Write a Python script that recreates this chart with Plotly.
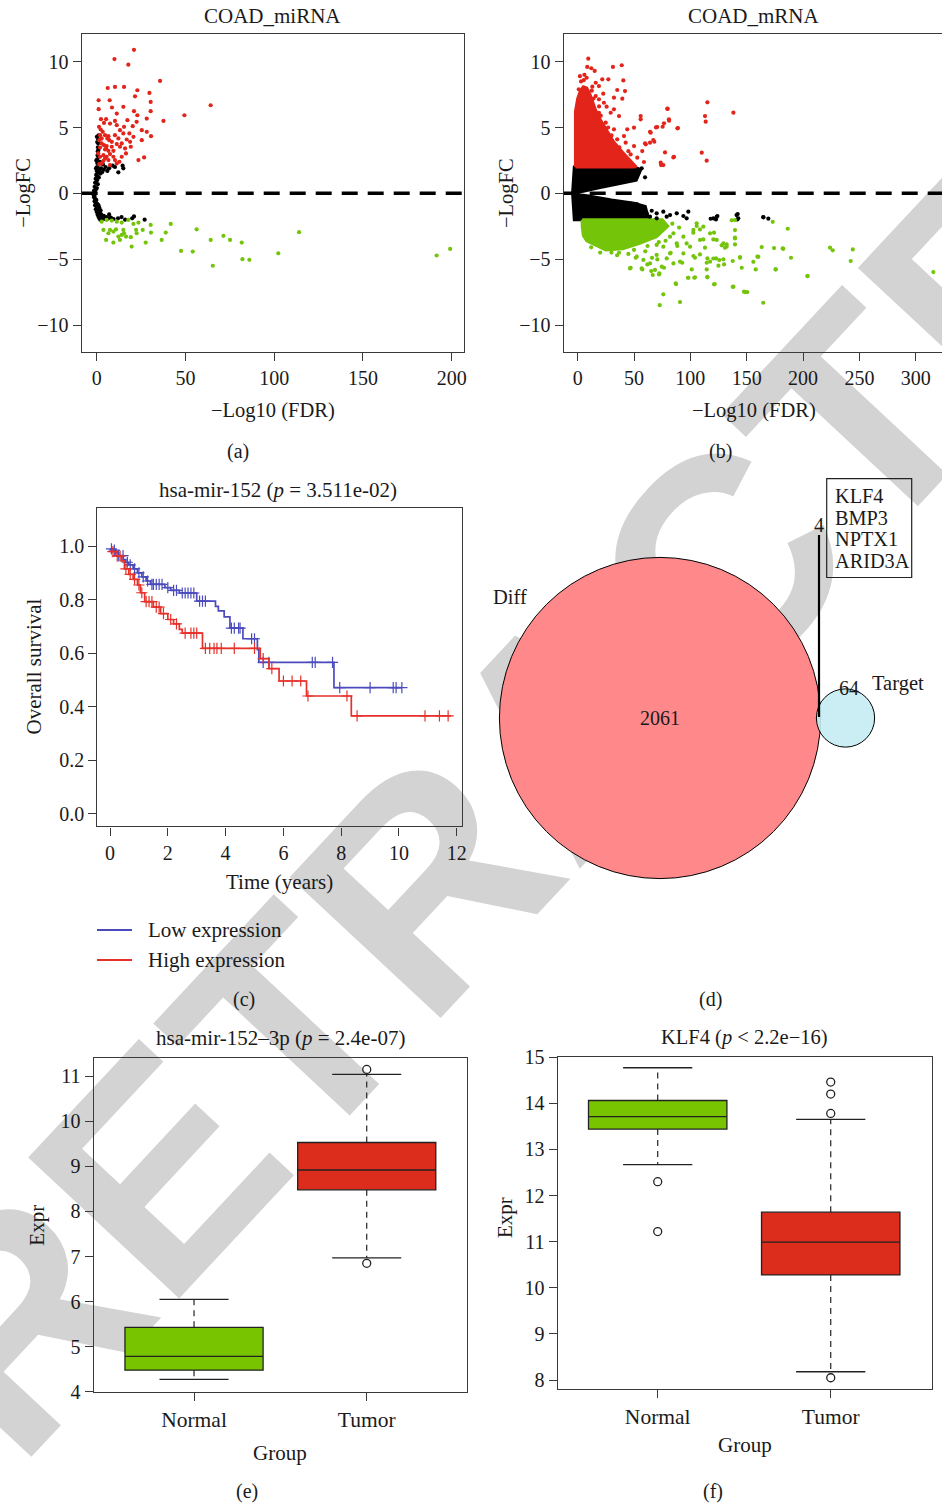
import numpy as np
import plotly.graph_objects as go

W, H = 942, 1505
FONT = "Liberation Serif"
INK = "#1a1a1a"
AX = "#3a3a3a"
RED_PT = "#E3241B"
GREEN_PT = "#74C50A"
BOX_GREEN = "#78C400"
BOX_RED = "#DC2C1C"
KM_BLUE = "#4B4BBE"
KM_RED = "#E6302A"

# ---------------- (a) COAD_miRNA volcano: (-log10 FDR, -logFC) ----------------
mirna_up = [(21.0, 10.9), (10.0, 10.2), (17.8, 9.77), (35.7, 8.54), (6.2, 8.0), (10.3, 8.08),
            (15.4, 8.08), (22.9, 7.83), (29.7, 7.63), (21.6, 7.37), (1.1, 7.07), (7.3, 7.07),
            (30.4, 6.94), (64.2, 6.69), (15.0, 6.57), (8.6, 6.52), (1.1, 6.39), (30.4, 6.24),
            (21.0, 6.24), (11.3, 6.06), (49.4, 5.93), (22.9, 5.93), (28.2, 5.68), (2.4, 5.63),
            (5.3, 5.63), (10.3, 5.5), (17.3, 5.56), (37.6, 5.5), (22.5, 5.43), (4.1, 5.35),
            (7.5, 5.3), (20.3, 5.1), (15.4, 5.05), (1.3, 5.05), (28.2, 4.67), (25.4, 4.8),
            (30.6, 4.34), (20.7, 4.29), (15.0, 4.55), (6.6, 4.34), (2.8, 4.17), (18.8, 3.91),
            (25.4, 4.04), (8.5, 3.91), (11.3, 3.74), (5.6, 3.59), (13.1, 3.54), (1.9, 3.48),
            (4.7, 3.33), (9.4, 3.23), (16.0, 3.41), (0.9, 3.03), (7.5, 2.98), (14.1, 2.78),
            (26.7, 2.73), (23.5, 2.53), (3.8, 2.47), (11.3, 2.27), (1.5, 2.22), (7.5, 2.15),
            (12.8, 2.4), (5.6, 2.78), (2.25, 4.85), (3.38, 4.67), (4.69, 4.42), (6.0, 4.17),
            (7.1, 4.04), (2.8, 3.79), (4.1, 3.66), (5.3, 3.41), (6.6, 3.23), (3.8, 2.9),
            (1.9, 2.78), (4.7, 2.65), (6.6, 2.53), (2.8, 2.27), (9.4, 2.78), (8.5, 3.54),
            (10.3, 4.42), (12.2, 4.17), (13.1, 4.8), (11.3, 5.18), (14.1, 3.79), (16.9, 4.09),
            (18.4, 4.55), (19.2, 3.54), (16.5, 3.03), (10.3, 2.53), (1.9, 4.42), (1.5, 4.04)]
mirna_down = [(2.8, -2.15), (5.6, -2.02), (8.5, -2.07), (11.3, -2.15), (14.1, -2.22), (17.8, -2.02),
              (20.7, -2.32), (23.5, -2.22), (25.9, -2.78), (30.4, -2.4), (30.6, -2.98), (41.7, -2.32),
              (38.9, -2.98), (56.3, -2.73), (36.6, -3.54), (3.8, -2.78), (6.6, -3.03), (9.4, -2.9),
              (12.2, -3.28), (15.0, -2.78), (16.5, -3.28), (19.2, -3.33), (22.2, -2.78), (22.5, -3.03),
              (27.6, -3.74), (5.3, -3.54), (9.4, -3.74), (13.1, -3.54), (19.7, -4.04), (15.4, -3.03),
              (7.5, -2.78), (10.9, -2.73), (14.1, -3.16), (47.5, -4.37), (54.1, -4.42), (64.2, -3.54),
              (65.4, -5.5), (71.4, -3.23), (75.1, -3.54), (81.7, -3.74), (82.1, -5.0), (86.0, -5.05),
              (102.3, -4.55), (114.0, -2.95), (191.5, -4.72), (199.1, -4.22)]
mirna_ns = [(-1.5, 0.2), (-1.2, 0.5), (-0.9, 0.8), (-0.6, 1.1), (-0.3, 1.4), (0.0, 1.7), (0.2, 2.0),
            (0.3, 2.3), (0.4, 2.6), (0.5, 2.9), (0.6, 3.2), (0.7, 3.5), (0.8, 3.8), (0.9, 4.1),
            (1.0, 4.4), (0.2, 1.0), (0.5, 1.3), (0.8, 1.6), (1.1, 1.9), (0.1, 0.4), (0.6, 0.7),
            (1.2, 1.2), (1.5, 1.7), (-0.5, 0.3), (2.0, 1.5), (2.5, 1.9), (3.0, 1.6), (1.8, 2.4),
            (1.2, 2.8), (1.0, 3.3), (0.3, 3.9), (0.1, 4.3), (-0.2, 2.5), (-0.4, 1.9), (5.0, 2.0),
            (7.0, 1.9), (9.0, 2.1), (10.3, 2.0), (12.2, 1.6), (14.6, 2.1), (15.0, 1.9), (4.0, 1.8),
            (6.0, 1.7), (3.5, 2.2), (-1.8, -0.1), (-1.5, -0.3), (-1.2, -0.6), (-0.9, -0.9),
            (-0.5, -1.2), (0.0, -1.4), (0.5, -1.6), (1.0, -1.75), (1.5, -1.9), (2.0, -2.0),
            (-1.0, -0.4), (-0.5, -0.7), (0.0, -1.0), (0.6, -1.1), (1.2, -1.3), (1.8, -1.5),
            (2.5, -1.6), (3.0, -1.8), (3.5, -1.9), (4.0, -1.7), (4.5, -1.95), (5.5, -1.8),
            (6.5, -1.9), (7.0, -1.6), (-0.2, -0.5), (0.3, -0.8), (1.0, -0.9), (-1.2, -0.2),
            (1.5, -1.1), (2.2, -1.3), (8.0, -1.85), (9.5, -1.95), (12.0, -1.9), (14.0, -1.8),
            (16.0, -2.0), (20.0, -1.9), (21.0, -1.75), (27.0, -2.0), (-1.6, 0.0), (-1.0, 0.1)]

# ---------------- (b) COAD_mRNA volcano ----------------
# outlines of the solid (saturated) point clouds
mrna_up_cloud = [(-2, 2), (-2, 6.2), (0, 7.2), (2.5, 7.8), (5, 8.1), (8, 8.0), (11, 7.5), (13, 7.0),
                 (16, 6.3), (20, 5.6), (26, 4.7), (32, 3.9), (40, 3.1), (47, 2.5), (52, 2.0), (-2, 2)]
mrna_ns_cloud_up = [(-4.5, 0.05), (-3, 2), (50, 2), (56, 1.8), (52, 1.0), (40, 0.8), (20, 0.45),
                    (5, 0.15), (-4.5, 0.05)]
mrna_ns_cloud_down = [(-4.5, -0.05), (10, -0.2), (30, -0.5), (50, -0.75), (60, -1.0), (63, -2.0),
                      (-3, -2.0), (-4.5, -0.05)]
mrna_down_cloud = [(4, -2), (75, -2), (80, -2.5), (70, -3.3), (55, -3.8), (40, -4.2), (25, -4.3),
                   (15, -3.9), (8, -3.6), (5, -3.2), (4, -2.5), (4, -2)]
mrna_up = [(9.4, 10.23), (8.5, 9.6), (12.1, 9.5), (15.1, 9.3), (31.3, 9.6), (39.1, 9.73), (8.0, 8.78),
           (16.0, 8.4), (21.8, 8.66), (27.2, 8.66), (40.5, 8.58), (18.9, 8.15), (35.1, 7.85), (42.0, 7.77),
           (22.7, 7.57), (32.2, 7.27), (39.6, 7.19), (18.9, 7.14), (79.5, 6.43), (81.0, 5.62), (76.6, 5.32),
           (89.0, 4.96), (70.6, 5.04), (55.9, 5.87), (55.9, 5.62), (64.8, 4.61), (50.0, 4.99), (44.0, 4.86),
           (60.4, 3.72), (64.2, 3.85), (67.1, 4.05), (73.7, 2.33), (76.0, 2.15), (85.5, 2.78), (50.0, 3.59),
           (57.3, 3.21), (52.9, 2.71), (47.0, 2.96), (58.8, 2.38), (41.1, 4.35), (35.1, 4.1), (42.6, 3.85),
           (32.2, 4.86), (24.9, 5.37), (29.3, 6.12), (36.7, 5.87), (25.7, 6.58), (32.2, 6.38), (16.0, 7.39),
           (23.3, 6.88), (18.9, 6.12), (115.1, 6.91), (113.0, 5.87), (113.6, 5.44), (110.1, 3.09),
           (114.5, 2.48), (138.2, 6.13), (88.5, 4.94), (81.1, 5.52), (79.9, 6.41), (84.9, 2.73),
           (77.5, 3.11), (74.0, 2.15), (75.4, 5.06), (69.5, 5.01), (64.2, 4.68), (59.8, 3.8), (68.0, 3.92),
           (3.0, 8.5), (1.0, 7.9), (5.5, 8.6), (12.5, 7.8), (14.0, 7.2), (20.5, 5.9), (27.0, 5.0),
           (30.0, 4.4), (37.0, 3.5), (45.0, 3.2), (19.0, 6.6), (13.0, 8.1), (2.0, 8.9), (6.0, 9.0)]
mrna_ns = [(46.4, -0.76), (52.4, -0.81), (58.3, -1.22), (65.7, -1.32), (70.1, -1.52), (76.0, -1.39),
           (82.0, -1.65), (87.9, -1.52), (93.8, -1.72), (98.2, -1.39), (96.7, -1.9), (79.0, -1.77),
           (70.1, -1.9), (64.2, -1.77), (61.2, -1.52), (120.4, -1.9), (124.0, -1.72), (141.0, -1.65),
           (141.7, -1.98), (164.8, -1.82), (169.2, -1.92), (56.8, 1.9), (59.8, 1.22), (53.8, 1.52),
           (50.9, 1.72), (118.0, -1.93), (123.4, -1.78), (122.7, -1.98), (142.0, -1.57), (142.5, -1.9),
           (164.7, -1.8)]
mrna_down = [(47.0, -5.65), (57.4, -5.78), (65.3, -5.9), (36.7, -4.51), (51.5, -4.89), (61.8, -5.4),
             (70.7, -5.02), (76.0, -7.67), (72.8, -8.49), (90.8, -8.26), (87.0, -6.84), (72.2, -6.16),
             (76.6, -5.65), (82.5, -4.51), (88.4, -4.0), (92.8, -5.27), (97.9, -6.41), (24.9, -4.0),
             (17.4, -3.75), (11.5, -3.37), (136.7, -2.05), (173.1, -2.16), (186.4, -2.69), (139.6, -2.79),
             (139.6, -3.37), (139.6, -3.88), (132.2, -3.88), (163.3, -4.08), (174.2, -4.16), (182.5, -4.21),
             (189.3, -4.89), (223.9, -4.13), (226.3, -4.33), (244.1, -4.26), (242.3, -5.14), (203.8, -6.28),
             (315.6, -5.98), (164.7, -8.31), (148.5, -7.5), (150.5, -7.5), (137.6, -7.1), (144.0, -4.84),
             (160.3, -4.82), (155.9, -5.2), (158.0, -5.78), (175.7, -5.78), (145.6, -5.65), (121.0, -6.91),
             (115.0, -6.34), (103.5, -6.41), (129.9, -5.4), (120.4, -4.95), (125.7, -5.07), (114.5, -5.27),
             (121.0, -2.99), (120.4, -3.5), (127.8, -3.95), (130.7, -4.13), (111.5, -3.5), (108.5, -2.74),
             (105.6, -2.48), (102.6, -2.99), (113.0, -4.13), (108.5, -4.64), (104.1, -4.89), (101.2, -5.78),
             (114.5, -5.78), (137.6, -5.14), (46.4, -5.7), (56.8, -5.7), (66.6, -6.2), (72.5, -6.08),
             (87.3, -6.89), (98.2, -6.41), (104.1, -6.38), (115.1, -6.38), (121.6, -6.89), (138.2, -7.09),
             (147.6, -7.47), (175.7, -5.77), (204.1, -6.28), (181.9, -4.18), (159.5, -4.81), (144.1, -4.89),
             (129.3, -5.01), (122.8, -4.94), (115.1, -4.94), (124.9, -5.49), (117.5, -5.19), (102.7, -4.76),
             (99.7, -4.05), (93.8, -4.56), (90.8, -5.19), (85.0, -5.32), (79.0, -4.94), (82.0, -4.56),
             (74.6, -5.57), (68.6, -5.82), (64.2, -5.32), (58.3, -5.06), (52.4, -4.81), (70.1, -4.68),
             (87.9, -3.8), (76.0, -4.05), (70.1, -3.92), (82.0, -3.29), (93.8, -3.29), (102.7, -2.78),
             (105.6, -2.28), (111.5, -2.53), (117.5, -3.04), (123.4, -3.54), (129.3, -3.8), (132.2, -4.05),
             (139.6, -3.42), (139.6, -2.03), (108.6, -3.54), (96.7, -3.8), (85.0, -3.04), (60.0, -4.4),
             (45.0, -4.6), (30.0, -4.5), (66.0, -4.9), (78.0, -3.6), (90.0, -2.6), (84.0, -2.3),
             (20.0, -4.5), (12.0, -4.1), (35.0, -4.7), (50.0, -4.3), (62.0, -4.0), (72.0, -3.7)]

# ---------------- (c) Kaplan-Meier, hsa-mir-152 ----------------
low_t = [0, 0.1, 0.2, 0.3, 0.46, 0.55, 0.65, 0.8, 0.95, 1.1, 1.25, 1.4, 1.9, 2.1, 2.4, 3.0, 3.65, 3.75,
         3.95, 4.15, 4.6, 5.1, 5.15, 7.75, 10.1]
low_s = [0.99, 0.985, 0.975, 0.965, 0.95, 0.94, 0.93, 0.915, 0.9, 0.885, 0.87, 0.857, 0.845, 0.835,
         0.825, 0.795, 0.775, 0.758, 0.736, 0.694, 0.654, 0.613, 0.566, 0.471, 0.471]
low_cens = [0.05, 0.15, 0.3, 0.45, 0.6, 0.7, 0.85, 1.0, 1.15, 1.3, 1.45, 1.5, 1.6, 1.7, 1.8, 2.0, 2.2,
            2.3, 2.5, 2.6, 2.7, 2.8, 2.9, 3.1, 3.2, 3.3, 4.2, 4.3, 4.45, 4.5, 4.9, 5.0, 5.3, 5.5, 7.0,
            7.1, 7.7, 7.95, 9.0, 9.8, 9.9, 10.1]
high_t = [0, 0.2, 0.4, 0.5, 0.65, 0.8, 0.95, 1.05, 1.2, 1.5, 1.75, 2.0, 2.2, 2.4, 2.5, 3.2, 5.2, 5.5,
          5.85, 6.8, 8.35, 11.8]
high_s = [0.98, 0.963, 0.945, 0.915, 0.895, 0.876, 0.855, 0.826, 0.793, 0.772, 0.748, 0.726, 0.71,
          0.689, 0.675, 0.618, 0.58, 0.542, 0.496, 0.44, 0.366, 0.366]
high_cens = [0.1, 0.25, 0.35, 0.55, 0.7, 0.85, 1.0, 1.1, 1.25, 1.35, 1.45, 1.6, 1.7, 1.85, 2.1, 2.3,
             2.6, 2.8, 2.9, 3.0, 3.3, 3.45, 3.6, 3.7, 3.85, 4.3, 5.0, 5.3, 5.6, 6.0, 6.3, 6.6, 6.85,
             8.2, 8.55, 10.9, 11.4, 11.7]
km_groups = ["Low expression", "High expression"]

# ---------------- (d) Venn ----------------
venn_sets = ["Diff", "Target"]
venn_only = [2061, 64]
venn_shared = 4
venn_genes = ["KLF4", "BMP3", "NPTX1", "ARID3A"]

# ---------------- (e), (f) box plots ----------------
groups = ["Normal", "Tumor"]
e_stats = {"lower": [4.275, 6.97], "q1": [4.48, 8.48], "median": [4.785, 8.92],
           "q3": [5.43, 9.53], "upper": [6.05, 11.04]}
e_outliers = [[], [11.15, 6.85]]
f_stats = {"lower": [12.67, 8.18], "q1": [13.44, 10.28], "median": [13.71, 10.99],
           "q3": [14.06, 11.64], "upper": [14.77, 13.65]}
f_outliers = [[12.30, 11.22], [14.46, 14.20, 13.78, 8.05]]


def unzip(pairs):
    return [p[0] for p in pairs], [p[1] for p in pairs]


fig = go.Figure()


def pts(pairs, color, xa, ya, size=4.2):
    x, y = unzip(pairs)
    fig.add_trace(go.Scatter(x=x, y=y, mode="markers", xaxis=xa, yaxis=ya, showlegend=False,
                             marker=dict(color=color, size=size, line=dict(width=0)), hoverinfo="skip"))


def cloud(pairs, color, xa, ya):
    x, y = unzip(pairs)
    fig.add_trace(go.Scatter(x=x, y=y, mode="lines", fill="toself", fillcolor=color, xaxis=xa, yaxis=ya,
                             line=dict(color=color, width=3), showlegend=False, hoverinfo="skip"))


# (a)
pts(mirna_ns, "black", "x", "y")
pts(mirna_up, RED_PT, "x", "y")
pts(mirna_down, GREEN_PT, "x", "y")
# (b)
cloud(mrna_ns_cloud_up, "black", "x2", "y2")
cloud(mrna_ns_cloud_down, "black", "x2", "y2")
cloud(mrna_up_cloud, RED_PT, "x2", "y2")
cloud(mrna_down_cloud, GREEN_PT, "x2", "y2")
pts(mrna_ns, "black", "x2", "y2")
pts(mrna_up, RED_PT, "x2", "y2")
pts(mrna_down, GREEN_PT, "x2", "y2")

# (c)
km_cols = [KM_BLUE, KM_RED]
for t, s, cens, col in [(low_t, low_s, low_cens, KM_BLUE), (high_t, high_s, high_cens, KM_RED)]:
    fig.add_trace(go.Scatter(x=t, y=s, mode="lines", line=dict(color=col, width=1.7, shape="hv"),
                             xaxis="x3", yaxis="y3", showlegend=False, hoverinfo="skip"))
    ta, sa = np.array(t), np.array(s)
    cy = sa[np.searchsorted(ta, np.array(cens), side="right") - 1]
    fig.add_trace(go.Scatter(x=cens, y=cy, mode="markers", xaxis="x3", yaxis="y3", showlegend=False,
                             hoverinfo="skip",
                             marker=dict(symbol="cross-thin", size=8, line=dict(color=col, width=1.2))))


# (e), (f)
def boxes(stats, outl, xa, ya):
    colors = [BOX_GREEN, BOX_RED]
    for i in range(2):
        pos = i + 1
        lo, q1, md, q3, up = (stats[k][i] for k in ["lower", "q1", "median", "q3", "upper"])
        fig.add_trace(go.Scatter(x=[pos, pos, None, pos, pos], y=[q3, up, None, q1, lo], mode="lines",
                                 line=dict(color="#222", width=1.2, dash="6px,5px"), xaxis=xa, yaxis=ya,
                                 showlegend=False, hoverinfo="skip"))
        fig.add_trace(go.Scatter(x=[pos - 0.2, pos + 0.2, None, pos - 0.2, pos + 0.2], y=[up, up, None, lo, lo],
                                 mode="lines", line=dict(color="#222", width=1.3), xaxis=xa, yaxis=ya,
                                 showlegend=False, hoverinfo="skip"))
        fig.add_trace(go.Box(x=[pos], q1=[q1], median=[md], q3=[q3], lowerfence=[q1], upperfence=[q3],
                             width=0.8, fillcolor=colors[i], line=dict(color="#222", width=1.3),
                             boxpoints=False, xaxis=xa, yaxis=ya, showlegend=False, hoverinfo="skip"))
        if outl[i]:
            fig.add_trace(go.Scatter(x=[pos] * len(outl[i]), y=outl[i], mode="markers", xaxis=xa, yaxis=ya,
                                     showlegend=False, hoverinfo="skip",
                                     marker=dict(symbol="circle-open", size=8, color="#222",
                                                 line=dict(width=1.3))))


boxes(e_stats, e_outliers, "x4", "y4")
boxes(f_stats, f_outliers, "x5", "y5")

# pixel overlay axis (for Venn + texts)
fig.add_trace(go.Scatter(x=[None], y=[None], xaxis="x6", yaxis="y6", showlegend=False))


def fx(px):
    return px / W


def fy(py):
    return 1 - py / H


tickfont = dict(family=FONT, size=20, color=INK)
catfont = dict(family=FONT, size=21.5, color=INK)
base = dict(showline=True, linecolor=AX, linewidth=1.3, mirror=True, ticks="outside", ticklen=8,
            tickwidth=1.2, tickcolor=AX, showgrid=False, zeroline=False, tickfont=tickfont,
            fixedrange=True, automargin=False)

layout = dict(
    width=W, height=H, autosize=False,
    margin=dict(l=0, r=0, t=0, b=0, pad=0, autoexpand=False),
    paper_bgcolor="white", plot_bgcolor="rgba(0,0,0,0)",
    font=dict(family=FONT, size=20, color=INK), showlegend=False,
    xaxis=dict(base, domain=[fx(81.7), fx(464)], range=[-8.45, 206.9], tickvals=[0, 50, 100, 150, 200], anchor="y"),
    yaxis=dict(base, domain=[fy(352), fy(34.3)], range=[-12.05, 12.08], tickvals=[-10, -5, 0, 5, 10], anchor="x"),
    xaxis2=dict(base, domain=[fx(563.7), 1.0], range=[-12.4, 323.3], tickvals=[0, 50, 100, 150, 200, 250, 300],
                anchor="y2"),
    yaxis2=dict(base, mirror=False, domain=[fy(352), fy(34.3)], range=[-12.05, 12.08],
                tickvals=[-10, -5, 0, 5, 10], anchor="x2"),
    xaxis3=dict(base, domain=[fx(97.3), fx(461.7)], range=[-0.44, 12.17], tickvals=list(range(0, 13, 2)),
                anchor="y3"),
    yaxis3=dict(base, domain=[fy(826.4), fy(507.8)], range=[-0.0475, 1.1436], tickvals=[0, 0.2, 0.4, 0.6, 0.8, 1.0],
                tickformat=".1f", anchor="x3"),
    xaxis4=dict(base, domain=[fx(93.7), fx(466.7)], range=[0.419, 2.579], tickvals=[1, 2], ticktext=groups,
                tickfont=catfont, anchor="y4"),
    yaxis4=dict(base, domain=[fy(1392.3), fy(1057.7)], range=[3.99, 11.41], tickvals=list(range(4, 12)),
                anchor="x4"),
    xaxis5=dict(base, domain=[fx(557.7), fx(932.3)], range=[0.422, 2.587], tickvals=[1, 2], ticktext=groups,
                tickfont=catfont, anchor="y5"),
    yaxis5=dict(base, domain=[fy(1389.3), fy(1056.7)], range=[7.8, 15.01], tickvals=list(range(8, 16)),
                anchor="x5"),
    xaxis6=dict(domain=[0, 1], range=[0, W], visible=False, fixedrange=True, anchor="y6"),
    yaxis6=dict(domain=[0, 1], range=[H, 0], visible=False, fixedrange=True, anchor="x6"),
)
fig.update_layout(**layout)

shapes = []
# RETRACTED watermark underneath everything
shapes.append(dict(type="rect", xref="paper", yref="paper", x0=fx(552) - 0.001, x1=fx(552) + 0.001,
                   y0=fy(705) - 0.001, y1=fy(705) + 0.001, layer="below", line=dict(width=0),
                   fillcolor="rgba(0,0,0,0)",
                   label=dict(text="RETRACTED", textangle=-47, textposition="middle center",
                              font=dict(family="Liberation Sans", size=300, color="#D3D3D3", weight="bold"))))
# zero lines
for xr, yr in [("x domain", "y"), ("x2 domain", "y2")]:
    shapes.append(dict(type="line", xref=xr, yref=yr, x0=0, x1=1, y0=0, y1=0,
                       line=dict(color="black", width=3.5, dash="16px,10px")))
# Venn circles: radius proportional to sqrt(set size)
sizes = [venn_only[0] + venn_shared, venn_only[1] + venn_shared]
k = 160.6 / np.sqrt(sizes[0])
radii = [k * np.sqrt(s) for s in sizes]
centers = [(660, 718), (845.5, 718)]
fills = ["#FF888B", "rgba(196,236,243,0.9)"]
for (cx, cy), r, fc in zip(centers, radii, fills):
    shapes.append(dict(type="circle", xref="x6", yref="y6", x0=cx - r, x1=cx + r, y0=cy - r, y1=cy + r,
                       fillcolor=fc, line=dict(color="black", width=1)))
shapes.append(dict(type="line", xref="x6", yref="y6", x0=819, x1=819, y0=535, y1=717,
                   line=dict(color="black", width=2.2)))
shapes.append(dict(type="rect", xref="x6", yref="y6", x0=826.7, x1=911.7, y0=478.6, y1=577.5,
                   line=dict(color="#222", width=1.2), fillcolor="rgba(0,0,0,0)"))
# KM legend keys
for i, col in enumerate(km_cols):
    yk = 930 + 30 * i
    shapes.append(dict(type="line", xref="x6", yref="y6", x0=97, x1=132, y0=yk, y1=yk,
                       line=dict(color=col, width=1.8)))
fig.update_layout(shapes=shapes)

ann = []


def txt(x, y, s, size=21, angle=0, xanchor="center", yanchor="middle"):
    ann.append(dict(x=x, y=y, xref="x6", yref="y6", text=s, showarrow=False, textangle=angle,
                    xanchor=xanchor, yanchor=yanchor, font=dict(family=FONT, size=size, color=INK)))


# titles
txt(272.5, 16, "COAD_miRNA")
txt(754.3, 16, "COAD_mRNA")
txt(278.3, 489.6, "hsa-mir-152 (<i>p</i> = 3.511e-02)")
txt(280, 1037.7, "hsa-mir-152–3p (<i>p</i> = 2.4e-07)")
txt(744, 1037.7, "KLF4 (<i>p</i> < 2.2e−16)", size=20.5)
# axis titles
txt(272.5, 410, "−Log10 (FDR)", size=20.5)
txt(754.3, 410, "−Log10 (FDR)", size=20.5)
txt(23.5, 193.3, "−LogFC", angle=-90, size=20.5)
txt(506.7, 193.3, "−LogFC", angle=-90, size=20.5)
txt(33.5, 667, "Overall survival", angle=-90)
txt(279.3, 882, "Time (years)")
txt(36.7, 1225, "Expr", angle=-90)
txt(505, 1218, "Expr", angle=-90)
txt(280, 1453, "Group")
txt(745, 1445, "Group")
# KM legend labels
for i, g in enumerate(km_groups):
    txt(145.5, 930 + 30 * i, g, xanchor="left")
# panel letters
txt(238, 451, "(a)", size=20)
txt(720, 451, "(b)", size=20)
txt(244.3, 999, "(c)", size=20)
txt(710, 999, "(d)", size=20)
txt(247, 1491, "(e)", size=20)
txt(713, 1491, "(f)", size=20)
# Venn labels
txt(centers[0][0], 718, str(venn_only[0]), size=20)
txt(849.3, 688, str(venn_only[1]), size=20)
txt(898.3, 683, venn_sets[1], size=20.5)
txt(510, 597, venn_sets[0], size=20.5)
txt(819, 525, str(venn_shared), size=20)
for i, g in enumerate(venn_genes):
    txt(832.7, 495.7 + i * 21.8, g, xanchor="left", size=20.3)
fig.update_layout(annotations=ann)

fig.write_html("out.html")
